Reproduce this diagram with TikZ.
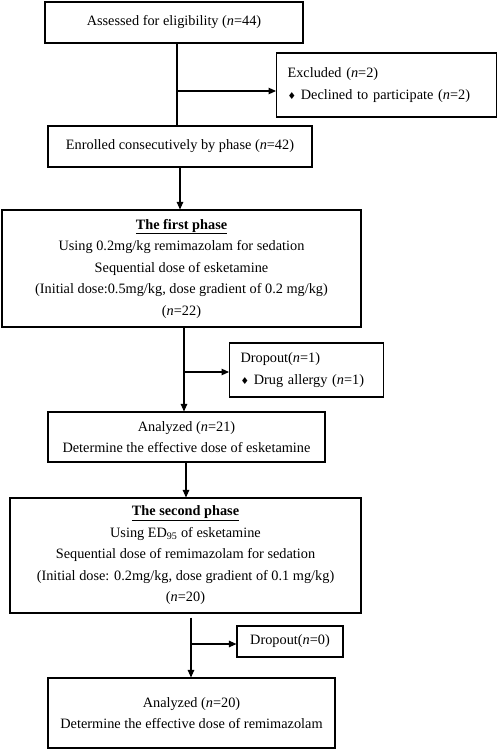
\documentclass[tikz,border=0pt]{standalone}
\usepackage{fontspec}
\setmainfont{Liberation Serif}
\newfontfamily\symfont{DejaVu Sans}
\usetikzlibrary{arrows.meta}
\newcommand{\dmd}{{\symfont\fontsize{9.5}{9.5}\selectfont ♦}}
\newcommand{\nn}{\textit{n}}
\begin{document}
\begin{tikzpicture}[x=1pt,y=-1pt,
  every node/.style={font=\fontsize{14.3}{21.5}\selectfont},
  box/.style={draw, line width=1.1pt, align=center, inner sep=0pt},
  lbox/.style={draw, line width=1.1pt, align=left, inner xsep=11pt, inner ysep=0pt, anchor=west},
  conn/.style={line width=1.1pt},
  arr/.style={line width=1.1pt, -{Triangle[length=7.5pt,width=6.5pt]}}]
\useasboundingbox (0,0) rectangle (498,750);
\node[box, minimum width=258pt, minimum height=41pt] (assess) at (174,22.5) {Assessed for eligibility (\nn=44)};
\node[lbox, minimum width=220pt, minimum height=64pt, text width=198pt] (excl) at (276,85) {Excluded (\nn=2)\\\dmd\ Declined to participate (\nn=2)};
\node[box, minimum width=264pt, minimum height=41pt] (enrol) at (180,146.5) {Enrolled consecutively by phase (\nn=42)};
\node[box, minimum width=359pt, minimum height=117pt] (ph1) at (181.5,268.5) {\underline{\textbf{The first phase}}\\Using 0.2mg/kg remimazolam for sedation\\Sequential dose of esketamine\\(Initial dose:0.5mg/kg, dose gradient of 0.2 mg/kg)\\(\nn=22)};
\node[lbox, minimum width=154pt, minimum height=54pt, text width=132pt] (drop1) at (229,370) {Dropout(\nn=1)\\\dmd\ Drug allergy (\nn=1)};
\node[box, minimum width=277pt, minimum height=50pt] (anal1) at (186.5,437) {Analyzed (\nn=21)\\Determine the effective dose of esketamine};
\node[box, minimum width=351pt, minimum height=115pt] (ph2) at (185.5,555.5) {\underline{\textbf{The second phase}}\\Using ED\textsubscript{95} of esketamine\\Sequential dose of remimazolam for sedation\\(Initial dose: 0.2mg/kg, dose gradient of 0.1 mg/kg)\\(\nn=20)};
\node[box, minimum width=106pt, minimum height=31pt] (drop2) at (290,641.5) {Dropout(\nn=0)};
\node[box, minimum width=287pt, minimum height=70pt] (anal2) at (191.5,713) {Analyzed (\nn=20)\\Determine the effective dose of remimazolam};
% connectors
\coordinate (j1) at (177,91);
\draw[conn] (assess.south -| j1) -- (enrol.north -| j1);
\draw[arr] (j1) -- (j1 -| excl.west);
\coordinate (j2) at (180,167);
\draw[arr] (enrol.south -| j2) -- (ph1.north -| j2);
\coordinate (j3) at (184,372);
\draw[arr] (ph1.south -| j3) -- (anal1.north -| j3);
\draw[arr] (j3) -- (j3 -| drop1.west);
\coordinate (j4) at (186,462);
\draw[arr] (anal1.south -| j4) -- (ph2.north -| j4);
\coordinate (j5) at (191,644);
\draw[arr] (ph2.south -| j5) ++(0,4) -- (anal2.north -| j5);
\draw[arr] (j5) -- (j5 -| drop2.west);
\end{tikzpicture}
\end{document}
